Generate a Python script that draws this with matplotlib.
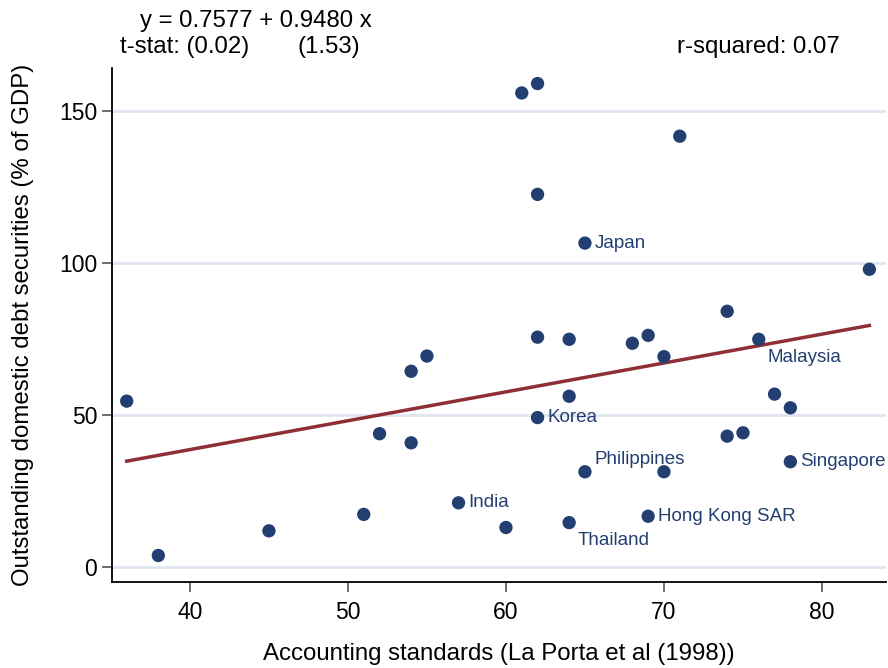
import matplotlib.pyplot as plt
import numpy as np

plt.rcParams['font.family'] = ['Liberation Sans', 'DejaVu Sans']

# accounting standards (x) vs outstanding domestic debt securities (y)
acct = [36, 38, 45, 51, 52, 54, 54, 55, 57, 60, 61, 62, 62, 62, 62, 64, 64, 64,
        65, 65, 68, 69, 69, 70, 70, 71, 74, 74, 75, 76, 77, 78, 78, 83]
debt = [54.6, 3.9, 12.0, 17.4, 43.9, 64.4, 40.9, 69.4, 21.2, 13.1, 155.8, 158.9,
        122.5, 75.6, 49.2, 74.9, 56.2, 14.7, 106.5, 31.4, 73.6, 76.2, 16.8, 69.2,
        31.4, 141.6, 84.1, 43.1, 44.2, 74.9, 56.9, 52.4, 34.7, 97.9]

# labelled economies: name, x, y, clock position
lab_names = ["Japan", "Malaysia", "Korea", "Philippines", "Singapore", "India",
             "Hong Kong SAR", "Thailand"]
lab_x = [65, 76, 62, 65, 78, 57, 69, 64]
lab_y = [106.5, 74.9, 49.2, 31.4, 34.7, 21.2, 16.8, 14.7]
lab_pos = [3, 4, 3, 2, 3, 3, 3, 4]

intercept, slope = 0.7577, 0.9480

navy = '#233f72'
maroon = '#8e2f35'
grid = '#dfe4ef'

fig = plt.figure(figsize=(8.88, 6.68), dpi=100)
ax = fig.add_axes([0.1258, 0.1283, 0.8719, 0.7699])

for yv in [0, 50, 100, 150]:
    ax.axhline(yv, color=grid, lw=2, zorder=0)

xs = np.array([min(acct), max(acct)])
ax.plot(xs, intercept + slope * xs, color=maroon, lw=2.5, zorder=2)
ax.scatter(acct, debt, s=92, color=navy, edgecolors='none', zorder=3)

offsets = {3: (7, 0), 4: (6, -13), 2: (7, 9)}
for name, x, y, p in zip(lab_names, lab_x, lab_y, lab_pos):
    dx, dy = offsets[p]
    ax.annotate(name, (x, y), xytext=(dx, dy), textcoords='offset points',
                ha='left', va='center', fontsize=13.5, color=navy)

ax.set_xlim(35.05, 84.05)
ax.set_ylim(-4.9, 164)
ax.set_xticks([40, 50, 60, 70, 80])
ax.set_yticks([0, 50, 100, 150])
ax.tick_params(axis='both', labelsize=16.5, length=7.5, width=1.2, color='#555555')
ax.tick_params(axis='x', pad=6)
ax.tick_params(axis='y', pad=3)

for s in ['top', 'right']:
    ax.spines[s].set_visible(False)
for s in ['left', 'bottom']:
    ax.spines[s].set_linewidth(1.3)

ax.set_xlabel('Accounting standards (La Porta et al (1998))', fontsize=17.3, labelpad=14)
ax.set_ylabel('Outstanding domestic debt securities (% of GDP)', fontsize=17.3,
              va='center')
ax.yaxis.set_label_coords(-0.1146, 0.5)

fig.text(140 / 888, 1 - 21 / 668, 'y = 0.7577 + 0.9480 x', fontsize=17.3, va='center', ha='left')
fig.text(120 / 888, 1 - 47 / 668, 't-stat: (0.02)', fontsize=17.3, va='center', ha='left')
fig.text(297 / 888, 1 - 47 / 668, '(1.53)', fontsize=17.3, va='center', ha='left')
fig.text(677 / 888, 1 - 47 / 668, 'r-squared: 0.07', fontsize=17.3, va='center', ha='left')

fig.savefig('out.png', dpi=100)
plt.close(fig)
